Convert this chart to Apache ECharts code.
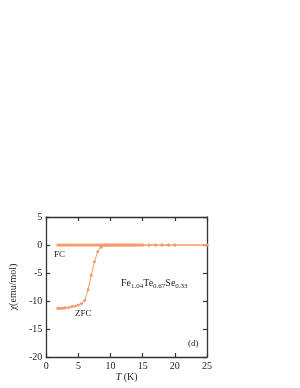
<!DOCTYPE html>
<html><head><meta charset="utf-8">
<script src="https://cdn.jsdelivr.net/npm/echarts@6/dist/echarts.min.js"></script>
<style>html,body{margin:0;padding:0;background:#fff}#c{width:300px;height:388px}</style>
</head><body><div id="c"></div>
<script>
var fcT = [1.8,2.0,2.2,2.4,2.6,2.8,3.0,3.25,3.5,3.75,4.0,4.25,4.5,4.75,5.0,5.25,5.5,5.75,6.0,6.25,6.5,6.75,7.0,7.25,7.5,7.75,8.0,8.25,8.5,8.75,9.0,9.25,9.5,9.75,10.0,10.25,10.5,10.75,11.0,11.25,11.5,11.75,12.0,12.25,12.5,12.75,13.0,13.25,13.5,13.75,14.0,14.5,15.0,16,17,18,19,20,25];
var fcChi = [0,0,0,0,0,0,0,0,0,0,0,0,0,0,0,0,0,0,0,0,0,0,0,0,0,0,0,0,0,0,0,0,0,0,0,0,0,0,0,0,0,0,0,0,0,0,0,0,0,0,0,0,0,0,0,0,0,0,0];
var zfcT = [1.8,2.0,2.2,2.5,2.8,3.0,3.5,4.0,4.5,5.0,5.5,6.0,6.5,7.0,7.5,8.0,8.5,9.0,9.25,9.5,9.75,10.0,10.5,11.0,11.5,12.0,12.5,13.0,13.5,14.0,14.5,15.0,16,17,18,19,20,25];
var zfcChi = [-11.3,-11.3,-11.3,-11.28,-11.25,-11.22,-11.15,-11.0,-10.9,-10.7,-10.45,-9.9,-8.0,-5.4,-3.0,-1.2,-0.4,-0.1,0,0,0,0,0,0,0,0,0,0,0,0,0,0,0,0,0,0,0,0];
var xTicks = [0,5,10,15,20,25];
var yTicks = [-20,-15,-10,-5,0,5];

function pairs(a,b){return a.map(function(v,i){return [v,b[i]];});}
var col = '#f79a6b';
var font = 'Liberation Serif';
var chart = echarts.init(document.getElementById('c'));
var axisCommon = {
  axisLine:{show:true,onZero:false,lineStyle:{color:'#333',width:1.3}},
  axisTick:{show:true,inside:true,length:4,lineStyle:{color:'#333',width:1.2}},
  splitLine:{show:false}
};
chart.setOption({
  animation:false,
  grid:{left:40,right:93,top:217,bottom:31},
  xAxis:[Object.assign({type:'value',min:0,max:25,interval:5,
    axisLabel:{fontFamily:font,fontSize:10,color:'#222',margin:4},
    name:'{i|T} (K)',nameLocation:'middle',nameGap:14,
    nameTextStyle:{fontFamily:font,fontSize:10,color:'#222',rich:{i:{fontFamily:font,fontStyle:'italic',fontSize:10,color:'#222'}}}
  },axisCommon),
  Object.assign({type:'value',min:0,max:25,interval:5,position:'top',axisLabel:{show:false}},axisCommon)],
  yAxis:[Object.assign({type:'value',min:-20,max:5,interval:5,
    axisLabel:{fontFamily:font,fontSize:10,color:'#222',margin:4},
    name:'χ(emu/mol)',nameLocation:'middle',nameGap:28,nameRotate:90,
    nameTextStyle:{fontFamily:font,fontSize:10,color:'#222'}
  },axisCommon),
  Object.assign({type:'value',min:-20,max:5,interval:5,position:'right',axisLabel:{show:false}},axisCommon)],
  series:[
    {type:'line',data:pairs(fcT,fcChi),symbol:'circle',symbolSize:3,showSymbol:true,
     lineStyle:{color:col,width:1},itemStyle:{color:col}},
    {type:'line',data:pairs(zfcT,zfcChi),symbol:'circle',symbolSize:3,showSymbol:true,
     lineStyle:{color:col,width:1},itemStyle:{color:col}}
  ],
  graphic:[
    {type:'text',left:54,top:250,style:{text:'FC',font:'9px "Liberation Serif"',fill:'#222'}},
    {type:'text',left:75,top:309,style:{text:'ZFC',font:'9px "Liberation Serif"',fill:'#222'}},
    {type:'text',left:188,top:339,style:{text:'(d)',font:'9px "Liberation Serif"',fill:'#222'}},
    {type:'text',left:121,top:278,style:{
      text:'Fe{s|1.04}Te{s|0.67}Se{s|0.33}',
      font:'10px "Liberation Serif"',fill:'#222',
      rich:{s:{fontSize:7,fontFamily:font,fill:'#222',verticalAlign:'bottom',padding:[6,0,0,0]}}
    }}
  ]
});
</script></body></html>
